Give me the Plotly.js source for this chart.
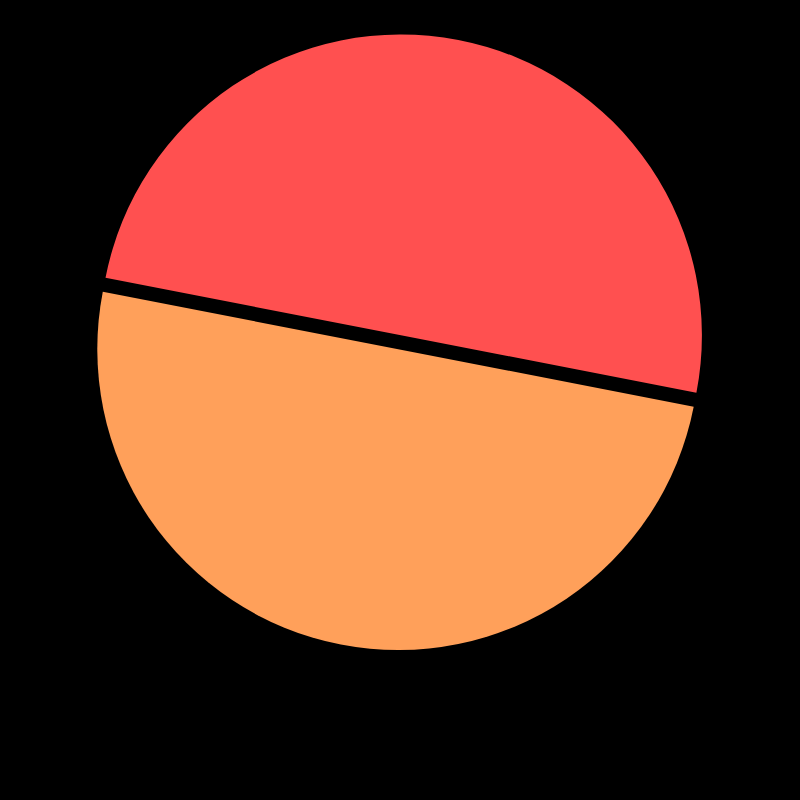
<!DOCTYPE html>
<html>
<head>
<meta charset="utf-8">
<script src="https://cdn.plot.ly/plotly-3.0.1.min.js"></script>
<style>
  html, body { margin: 0; padding: 0; background: #000000; }
  #chart { width: 800px; height: 800px; }
</style>
</head>
<body>
<div id="chart"></div>
<script>
// two halves of the pie
var labels = ['A', 'B'];
var values = [50, 50];
var pulls = [0.0236, 0.0236];
var colors = ['#FF5050', '#FFA05A'];

var data = [{
    type: 'pie',
    labels: labels,
    values: values,
    pull: pulls,
    sort: false,
    rotation: -79,
    marker: {
        colors: colors,
        line: { width: 0 }
    },
    textinfo: 'none',
    hoverinfo: 'none',
    domain: {
        x: [0.114, 0.885],
        y: [0.1871, 0.9573]
    }
}];

var layout = {
    width: 800,
    height: 800,
    showlegend: false,
    paper_bgcolor: '#000000',
    plot_bgcolor: '#000000',
    margin: { l: 0, r: 0, t: 0, b: 0 }
};

Plotly.newPlot('chart', data, layout, { staticPlot: true });
</script>
</body>
</html>
